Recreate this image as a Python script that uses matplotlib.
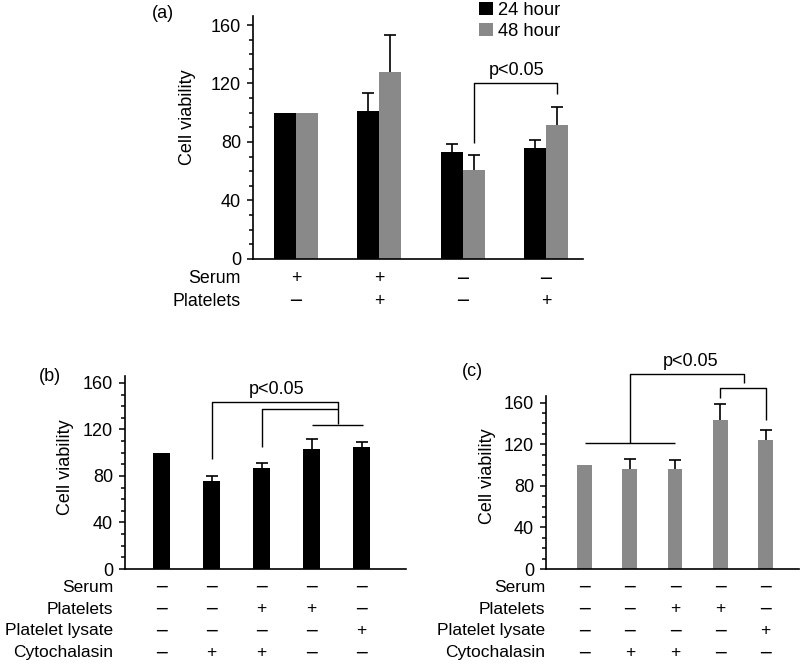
import matplotlib
matplotlib.use("Agg")
import matplotlib.pyplot as plt
from matplotlib.transforms import blended_transform_factory
from matplotlib.ticker import MultipleLocator

plt.rcParams['font.family'] = ['Liberation Sans', 'DejaVu Sans']

# ---- data ----
# panel (a): serum / platelets, 24 h vs 48 h
a_serum = ['+', '+', '-', '-']
a_platelets = ['-', '+', '-', '+']
a_24h = [100, 101, 73, 76]
a_24h_err = [0, 12.5, 5.3, 5.2]
a_48h = [100, 128, 61, 91.4]
a_48h_err = [0, 25, 9.8, 12.8]

# panel (b): 24 h
b_vals = [100, 76, 87, 103, 104.6]
b_err = [0, 4.3, 4, 9, 4.4]

# panel (c): 48 h
c_vals = [100, 96, 96, 143.6, 123.8]
c_err = [0, 10.2, 8.6, 14.8, 10.2]

bc_rows = {
    'Serum': ['-', '-', '-', '-', '-'],
    'Platelets': ['-', '-', '+', '+', '-'],
    'Platelet lysate': ['-', '-', '-', '-', '+'],
    'Cytochalasin': ['-', '+', '+', '-', '-'],
}

BLACK = '#000000'
GRAY = '#898989'
W, H = 800, 666

fig = plt.figure(figsize=(W / 100, H / 100), dpi=100)


def px_axes(left, right, bottom, top):
    return fig.add_axes([left / W, 1 - bottom / H, (right - left) / W, (bottom - top) / H])


def style_axes(ax, fs):
    for s in ['top', 'right']:
        ax.spines[s].set_visible(False)
    ax.spines['left'].set_linewidth(1.2)
    ax.spines['bottom'].set_linewidth(1.2)
    ax.set_ylim(0, 166)
    ax.set_yticks([0, 40, 80, 120, 160])
    ax.yaxis.set_minor_locator(MultipleLocator(10))
    ax.tick_params(axis='y', which='major', length=4.5, width=1.1, pad=4, labelsize=fs)
    ax.tick_params(axis='y', which='minor', length=3, width=1.1)
    ax.set_xticks([])


def fig_text(x, y, s, **kw):
    fig.text(x / W, 1 - y / H, s, **kw)


def bracket(ax, xs, ys, lw=1.0):
    ax.plot(xs, ys, color='black', lw=lw, clip_on=False, solid_capstyle='butt')


def up_errors(ax, xs, vals, errs):
    # only the upper half of each error bar, as in the original figure
    _, caps, _ = ax.errorbar(xs, vals, yerr=[[0] * len(vals), errs], fmt='none', ecolor='black',
                             elinewidth=1.2, capsize=4.5, capthick=1.2)
    caps[0].set_visible(False)


def sign_row(ax, xs, row_y, signs, fs):
    tr = blended_transform_factory(ax.transData, fig.transFigure)
    for x, s in zip(xs, signs):
        if s == '+':
            ax.text(x, 1 - row_y / H, '+', transform=tr, ha='center', va='center', fontsize=fs)
        else:
            # wide minus like the original figure
            ax.text(x, 1 - row_y / H, '\u2212', transform=tr, ha='center', va='center',
                    fontsize=fs, family='DejaVu Sans')


# ---- panel (a) ----
ax_a = px_axes(253, 583, 259, 259 - 166 * 1.4625)
style_axes(ax_a, 13)
xa = range(len(a_24h))
bw = 0.264
xa_24 = [x - bw / 2 for x in xa]
xa_48 = [x + bw / 2 for x in xa]
ax_a.bar(xa_24, a_24h, width=bw, color=BLACK, label='24 hour')
ax_a.bar(xa_48, a_48h, width=bw, color=GRAY, label='48 hour')
up_errors(ax_a, xa_24[1:], a_24h[1:], a_24h_err[1:])
up_errors(ax_a, xa_48[1:], a_48h[1:], a_48h_err[1:])
ax_a.set_xlim(-0.516, 3.444)
bracket(ax_a, [xa_48[2], xa_48[2], xa_48[3], xa_48[3]], [79.5, 120, 120, 112.6])
ax_a.text(2.65, 123, 'p<0.05', ha='center', va='bottom', fontsize=13)
ax_a.legend(loc='upper left', bbox_to_anchor=(479 / W, 1 - 2 / H), bbox_transform=fig.transFigure,
            frameon=False, fontsize=13.2, handlelength=0.75, handleheight=0.7,
            handletextpad=0.3, labelspacing=0.2, borderpad=0, borderaxespad=0)

for row_y, label, signs in [(279, 'Serum', a_serum), (301, 'Platelets', a_platelets)]:
    fig_text(241, row_y, label, ha='right', va='center', fontsize=12.8)
    sign_row(ax_a, xa, row_y, signs, 12.8)
fig_text(188, 117, 'Cell viability', rotation=90, ha='center', va='center', fontsize=13)
fig_text(163, 13, '(a)', ha='center', va='center', fontsize=13)

row_ys = [587, 609, 631, 653]

# ---- panel (b) ----
ax_b = px_axes(125, 406, 569, 569 - 166 * 1.163)
style_axes(ax_b, 13)
xb = range(len(b_vals))
ax_b.bar(xb, b_vals, width=0.34, color=BLACK)
up_errors(ax_b, list(xb)[1:], b_vals[1:], b_err[1:])
ax_b.set_xlim(-0.73, 4.89)
bracket(ax_b, [1, 1, 3.52, 3.52], [94.3, 143.3, 143.3, 124.5])
bracket(ax_b, [2, 2, 3.52], [104.6, 137.3, 137.3])
bracket(ax_b, [3.0, 4.03], [124.0, 124.0])
ax_b.text(2.31, 147, 'p<0.05', ha='center', va='bottom', fontsize=13)

for row_y, (label, signs) in zip(row_ys, bc_rows.items()):
    fig_text(113, row_y, label, ha='right', va='center', fontsize=12.5)
    sign_row(ax_b, xb, row_y, signs, 12.5)
fig_text(65, 467, 'Cell viability', rotation=90, ha='center', va='center', fontsize=13)
fig_text(50, 377, '(b)', ha='center', va='center', fontsize=13)

# ---- panel (c) ----
ax_c = px_axes(546, 799, 569, 569 - 166 * 1.04)
style_axes(ax_c, 13)
xc = range(len(c_vals))
ax_c.bar(xc, c_vals, width=0.33, color=GRAY)
up_errors(ax_c, list(xc)[1:], c_vals[1:], c_err[1:])
ax_c.set_xlim(-0.851, 4.74)
bracket(ax_c, [0, 2], [120.9, 120.9])
bracket(ax_c, [1, 1, 3.52, 3.52], [120.9, 187.2, 187.2, 179])
bracket(ax_c, [3, 3, 4, 4], [164.8, 174.3, 174.3, 143.3])
ax_c.text(2.35, 191, 'p<0.05', ha='center', va='bottom', fontsize=13)

for row_y, (label, signs) in zip(row_ys, bc_rows.items()):
    fig_text(545, row_y, label, ha='right', va='center', fontsize=12.5)
    sign_row(ax_c, xc, row_y, signs, 12.5)
fig_text(487, 476, 'Cell viability', rotation=90, ha='center', va='center', fontsize=13)
fig_text(472, 372, '(c)', ha='center', va='center', fontsize=13)

fig.savefig('out.png', dpi=100)
